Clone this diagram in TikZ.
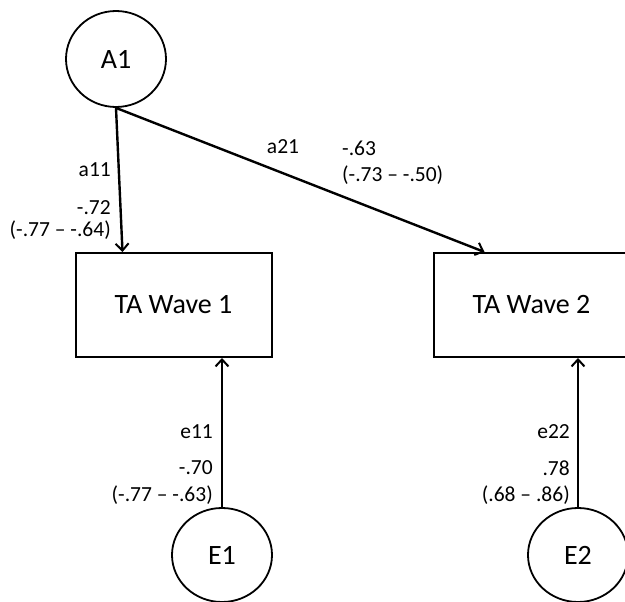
\documentclass[tikz,border=0pt]{standalone}
\usepackage{fontspec}
\setmainfont{Carlito}
\usetikzlibrary{shapes.geometric,arrows.meta,calc}
\begin{document}
\begin{tikzpicture}[x=1pt,y=-1pt,
  latent/.style={draw, ellipse, line width=1.8pt, inner sep=0pt, minimum width=100pt, minimum height=96pt, font=\fontsize{28}{32}\selectfont},
  obs/.style={draw, rectangle, line width=2pt, inner sep=0pt, minimum width=196pt, minimum height=104pt, font=\fontsize{28}{32}\selectfont},
  conn/.style={line width=2.4pt, -{Straight Barb[length=7pt,width=13pt,line width=2pt]}},
  lbl/.style={inner sep=0pt, font=\fontsize{21.5}{24}\selectfont}
]
\clip (0,0) rectangle (625,602);
\node[latent] (A1) at (116,59) {A1};
\node[obs] (W1) at (173.5,305) {TA Wave 1\hspace{12pt}};
\node[obs] (W2) at (531.5,305) {TA Wave 2\hspace{12pt}};
\node[latent, minimum height=94pt] (E1) at (222,555) {E1};
\node[latent, minimum height=94pt] (E2) at (578,555) {E2};
\coordinate (t11) at ($(W1.north west)+(48,0)$);
\coordinate (t21) at ($(W2.north west)+(52,0)$);
\draw[conn] (A1.south) -- (t11);
\draw[conn] (A1.south) -- (t21);
\draw[conn] (E1.north) -- (E1.north |- W1.south);
\draw[conn] (E2.north) -- (E2.north |- W2.south);
\node[lbl, anchor=east] (la11) at (111,170) {a11};
\node[lbl, anchor=east] (va11) at (111,208) {-.72};
\node[lbl, anchor=east] (ca11) at (111,230) {(-.77 – -.64)};
\node[lbl] (la21) at (283,147) {a21};
\node[lbl, anchor=west] (va21) at (342,148) {-.63};
\node[lbl, anchor=west] (ca21) at (342,175) {(-.73 – -.50)};
\node[lbl, anchor=east] (le11) at (213,432) {e11};
\node[lbl, anchor=east] (ve11) at (213,468) {-.70};
\node[lbl, anchor=east] (ce11) at (213,495) {(-.77 – -.63)};
\node[lbl, anchor=east] (le22) at (570,432) {e22};
\node[lbl, anchor=east] (ve22) at (570,468) {.78};
\node[lbl, anchor=east] (ce22) at (570,495) {(.68 – .86)};
\end{tikzpicture}
\end{document}
